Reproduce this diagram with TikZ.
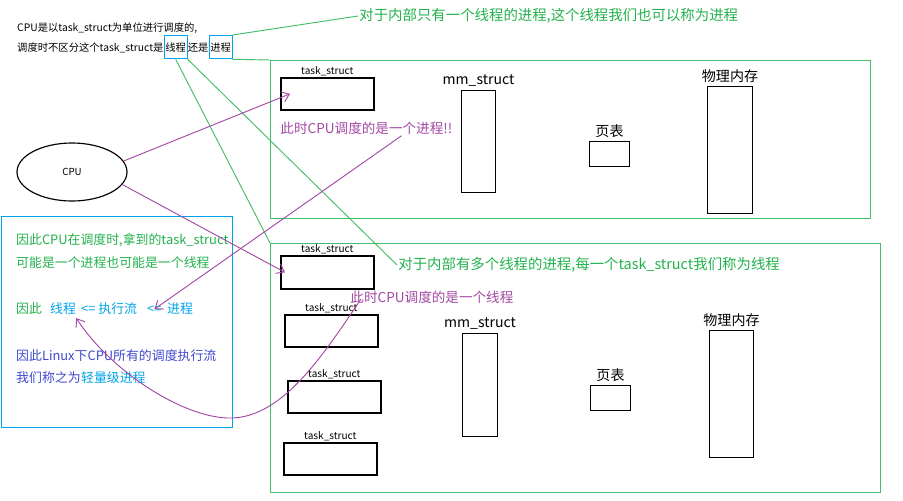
\documentclass[tikz,border=0pt]{standalone}
\usepackage{fontspec}
\setmainfont{Noto Sans CJK SC}
\usetikzlibrary{arrows.meta, calc, positioning, shapes.geometric}

\definecolor{pgreen}{HTML}{22B14C}
\definecolor{ppurple}{HTML}{A349A4}
\definecolor{pblue}{HTML}{00A2E8}
\definecolor{pindigo}{HTML}{3F48CC}

\begin{document}
\begin{tikzpicture}[x=0.03cm, y=-0.03cm,
pxsize/.style 2 args={minimum width=#1*0.03cm, minimum height=#2*0.03cm},
box/.style={draw, line width=0.9pt, inner sep=0pt, anchor=north west},
tsbox/.style={box, line width=1.5pt},
gbox/.style={box, draw=pgreen!85, line width=1pt},
bbox/.style={box, draw=pblue, line width=1pt},
lab/.style={font=\fontsize{12}{14}\selectfont, inner sep=1pt},
tslab/.style={font=\fontsize{8.6}{10}\selectfont, inner sep=0.5pt},
small/.style={font=\fontsize{8.8}{11}\selectfont, inner xsep=0pt, anchor=base west},
note/.style={font=\fontsize{12.3}{14}\selectfont, text=pgreen, anchor=west, inner sep=1pt},
pnote/.style={font=\fontsize{11.6}{14}\selectfont, text=ppurple, anchor=west, inner sep=1pt},
btxt/.style={font=\fontsize{11}{13}\selectfont, inner xsep=0pt, anchor=base west},
hlbox/.style={draw=pblue, line width=0.8pt, inner xsep=1pt, inner ysep=6pt},
gline/.style={pgreen!85, line width=0.8pt},
pline/.style={ppurple, line width=0.8pt},
parrow/.style={pline, -{Straight Barb[length=6pt, width=9pt]}}]

\useasboundingbox (0,0) rectangle (903,500);

% scheduling statement
\node[small] (st1) at (17,31) {CPU是以task\_struct为单位进行调度的,};
\node[small] (st2) at (17,51) {调度时不区分这个task\_struct是};
\node[small, hlbox] (thr) at (st2.base east) {线程};
\node[small] (st3) at (thr.base east) {还是};
\node[small, hlbox] (prc) at (st3.base east) {进程};

\node[note] (one) at (358,16) {对于内部只有一个线程的进程,这个线程我们也可以称为进程};

% single thread process
\node[gbox, pxsize={600}{158}] (proc1) at (270,60) {};
\node[tsbox, pxsize={93}{32}] (ts1) at (280,77) {};
\node[tslab, above=0pt of ts1] (ts1l) {task\_struct};
\node[pnote] (pn1) at (279,128) {此时CPU调度的是一个进程!!};
\node[box, pxsize={34}{102}] (mm1) at (461,90) {};
\node[lab, above=2pt of mm1] (mm1l) {mm\_struct};
\node[box, pxsize={40}{25}] (pt1) at (589,141) {};
\node[lab, above=2pt of pt1] (pt1l) {页表};
\node[box, pxsize={45}{127}] (mem1) at (707,86) {};
\node[lab, above=2pt of mem1] (mem1l) {物理内存};

% multi thread process
\node[gbox, pxsize={610}{249}] (proc2) at (270,243) {};
\node[tsbox, pxsize={93}{33}] (ts2) at (280,255) {};
\node[tslab, above=0pt of ts2] (ts2l) {task\_struct};
\node[tsbox, pxsize={93}{32}] (ts3) at (284,314) {};
\node[tslab, above=0pt of ts3] (ts3l) {task\_struct};
\node[tsbox, pxsize={93}{32}] (ts4) at (287,380) {};
\node[tslab, above=0pt of ts4] (ts4l) {task\_struct};
\node[tsbox, pxsize={93}{32}] (ts5) at (283,442) {};
\node[tslab, above=0pt of ts5] (ts5l) {task\_struct};
\node[note] (many) at (397,265) {对于内部有多个线程的进程,每一个task\_struct我们称为线程};
\node[pnote] (pn3) at (349,297) {此时CPU调度的是一个线程};
\node[box, pxsize={35}{103}] (mm2) at (462,333) {};
\node[lab, above=2pt of mm2] (mm2l) {mm\_struct};
\node[box, pxsize={40}{25}] (pt2) at (590,385) {};
\node[lab, above=2pt of pt2] (pt2l) {页表};
\node[box, pxsize={44}{127}] (mem2) at (709,330) {};
\node[lab, above=2pt of mem2] (mem2l) {物理内存};

\node[draw, ellipse, line width=1pt, pxsize={110}{58}, font=\fontsize{8.3}{10}\selectfont] (cpu) at (72,172) {CPU};

% conclusion
\node[bbox, pxsize={231}{211}] (sum) at (1,216) {};
\node[btxt, text=pgreen] (s1) at (16,244) {因此CPU在调度时,拿到的task\_struct};
\node[btxt, text=pgreen] (s2) at (16,267) {可能是一个进程也可能是一个线程};
\node[btxt, text=pgreen] (s3) at (16,313) {因此};
\node[btxt, text=pblue] (s4) at (50,313) {线程};
\node[btxt, text=pblue] (s5) at (81,313) {<=\ 执行流};
\node[btxt, text=pblue] (s6) at (147,313) {<=};
\node[btxt, text=pblue] (s7) at (167,313) {进程};
\node[btxt, text=pindigo] (s8) at (16,360) {因此Linux下CPU所有的调度执行流};
\node[btxt, text=pindigo] (s9) at (16,382) {我们称之为};
\node[btxt, text=pblue] (s10) at (s9.base east) {轻量级进程};

\draw[gline] (prc.north east) -- (one.west);
\draw[gline] (prc.south east) -- (proc1.north west);
\draw[gline] (thr.south) -- (proc2.north west);
\draw[gline] (thr.south east) -- (many.west);

\draw[parrow] (cpu.12) -- ($(ts1.west)+(10,0)$);
\draw[parrow] (cpu.-14) -- ($(ts2.west)+(5,0)$);
\draw[parrow] ($(pn1.south east)+(-52,0)$) -- (s6.center);
\draw[parrow] ($(pn3.west)+(12,2)$) .. controls (320,360) and (280,420) .. (227,418)
  .. controls (180,416) and (110,370) .. (s4.south east);

\end{tikzpicture}
\end{document}
